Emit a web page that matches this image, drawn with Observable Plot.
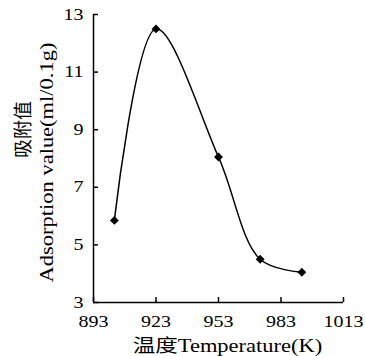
<!DOCTYPE html>
<html><head><meta charset="utf-8">
<script src="https://cdn.jsdelivr.net/npm/d3@7"></script>
<script src="https://cdn.jsdelivr.net/npm/@observablehq/plot@0.6"></script>
<style>
html,body{margin:0;padding:0;background:#fff;}
</style>
</head><body><div id="chart"></div>
<script>
const temperature = [903, 923, 953, 973, 993];
const adsorption = [5.85, 12.5, 8.05, 4.5, 4.05];
const xTicks = [893, 923, 953, 983, 1013];
const yTicks = [3, 5, 7, 9, 11, 13];
const xLabel = "温度Temperature(K)";
const yLabelZh = "吸附值";
const yLabelEn = "Adsorption value(ml/0.1g)";

const data = temperature.map((t, i) => ({t, v: adsorption[i]}));
const ink = "#000";
const serif = "'Liberation Serif', 'Times New Roman', 'Noto Sans CJK SC', serif";

const chart = Plot.plot({
  width: 365, height: 356,
  marginLeft: 93, marginRight: 22, marginTop: 14, marginBottom: 54,
  style: {fontFamily: serif, fontSize: "16px", color: ink, background: "#fff"},
  x: {domain: [893, 1013], label: null},
  y: {domain: [3, 13], label: null},
  marks: [
    Plot.axisX(xTicks, {tickSize: 0, tickPadding: 13, fontSize: 16, fontFamily: serif, label: null, tickFormat: d => String(d)}),
    Plot.axisY(yTicks, {tickSize: 0, tickPadding: 10, fontSize: 16, fontFamily: serif, label: null, tickFormat: d => String(d)}),
    Plot.tickX(xTicks, {x: d => d, insetTop: 283, stroke: ink, strokeWidth: 1.5}),
    Plot.tickY(yTicks, {y: d => d, insetRight: 245, stroke: ink, strokeWidth: 1.5}),
    Plot.ruleX([893], {stroke: ink, strokeWidth: 1.5}),
    Plot.ruleY([3], {stroke: ink, strokeWidth: 1.5}),
    Plot.line(data, {x: "t", y: "v", curve: "catmull-rom", stroke: ink, strokeWidth: 1.5}),
    Plot.dot(data, {x: "t", y: "v", symbol: "diamond2", r: 4, fill: ink, stroke: "none"}),
    Plot.text([xLabel], {text: d => d, frameAnchor: "bottom", textAnchor: "middle", dx: 9, dy: 44, lineAnchor: "middle", fontSize: 18, fontFamily: serif}),
    Plot.text([yLabelZh], {text: d => d, frameAnchor: "left", textAnchor: "middle", rotate: -90, dx: -70, dy: -29, lineAnchor: "middle", fontSize: 19, fontFamily: serif}),
    Plot.text([yLabelEn], {text: d => d, frameAnchor: "left", textAnchor: "middle", rotate: -90, dx: -46, dy: 4, lineAnchor: "middle", fontSize: 18, fontFamily: serif})
  ]
});

chart.querySelectorAll("text").forEach(t => {
  if (t.textContent === yLabelZh) return;
  const tr = t.getAttribute("transform") || "";
  t.setAttribute("transform", (tr + " scale(1.25,1)").trim());
});

document.getElementById("chart").appendChild(chart);
</script>
</body></html>
